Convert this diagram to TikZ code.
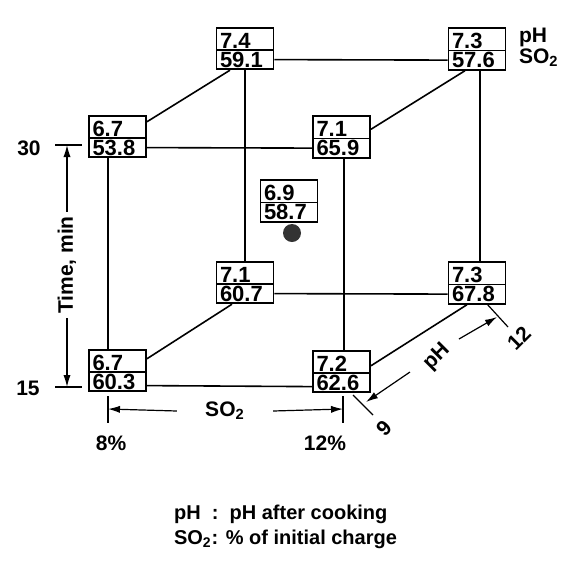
\documentclass[tikz,border=0pt]{standalone}
\usepackage{fontspec}
\setmainfont{Liberation Sans}
\usetikzlibrary{arrows.meta,shapes.multipart}

\begin{document}
\begin{tikzpicture}[
  x=0.5pt, y=-0.5pt,
  font=\fontsize{10.5}{12.5}\selectfont\bfseries,
  cell/.style={draw, line width=0.9pt, rectangle split, rectangle split parts=2,
    font=\fontsize{11}{13}\selectfont\bfseries,
    text width=25pt, align=left, inner xsep=1.75pt, inner ysep=0.5pt,
    text height=9.2pt, text depth=0pt},
  cube/.style={line width=0.8pt},
  arr/.style={-{Latex[length=6pt,width=3.6pt]}, line width=0.6pt},
  axtick/.style={line width=0.6pt}
]
\useasboundingbox (0,0) rectangle (561,563);
% boxes: time - SO2 - pH
\node[cell] (box-30-8-12) at (245,48.5) {7.4\nodepart{two}59.1};
\node[cell] (box-30-12-12) at (477,49) {7.3\nodepart{two}57.6};
\node[cell] (box-30-8-9) at (117.5,136.5) {6.7\nodepart{two}53.8};
\node[cell] (box-30-12-9) at (341.5,137) {7.1\nodepart{two}65.9};
\node[cell] (box-mid) at (289,201) {6.9\nodepart{two}58.7};
\node[circle, fill=black!80, minimum size=9pt, inner sep=0pt] (mid-dot) at (292,233) {};
\node[cell] (box-15-8-12) at (245,282.5) {7.1\nodepart{two}60.7};
\node[cell] (box-15-12-12) at (477,283) {7.3\nodepart{two}67.8};
\node[cell] (box-15-8-9) at (117.5,370.5) {6.7\nodepart{two}60.3};
\node[cell] (box-15-12-9) at (341.5,371.5) {7.2\nodepart{two}62.6};
\node[anchor=west] (key-ph) at (512,37) {pH};
\node[anchor=west] (key-so2) at (512,58) {SO\textsubscript{2}};
% cube edges
\draw[cube] (box-30-8-12.two east) -- (box-30-12-12.two west);
\draw[cube] (box-30-8-9.two east) -- (box-30-12-9.two west);
\draw[cube] (box-15-8-12.two east) -- (box-15-12-12.two west);
\draw[cube] ([yshift=-2pt]box-15-8-9.two east) -- ([yshift=-2pt]box-15-12-9.two west);
\draw[cube] ([xshift=-4.75pt]box-30-8-9.south) -- ([xshift=-4.75pt]box-15-8-9.north);
\draw[cube] ([xshift=1.25pt]box-30-12-9.south) -- ([xshift=1.25pt]box-15-12-9.north);
\draw[cube] (box-30-8-12.south) -- (box-15-8-12.north);
\draw[cube] ([xshift=1.5pt]box-30-12-12.south) -- ([xshift=1.5pt]box-15-12-12.north);
\draw[cube] ([yshift=-3.5pt]box-30-8-9.north east) -- ([xshift=-7.5pt]box-30-8-12.south);
\draw[cube] ([yshift=-7pt]box-30-12-9.north east) -- ([xshift=-6pt]box-30-12-12.south);
\draw[cube] ([yshift=-5pt]box-15-8-9.north east) -- ([xshift=-6.5pt]box-15-8-12.south);
\draw[cube] ([yshift=-8pt]box-15-12-9.north east) -- ([xshift=-5pt]box-15-12-12.south);
% time axis
\node (lbl-30) at (29,148) {30};
\node (lbl-15) at (28,388) {15};
\draw[axtick] (55,145) -- (82,145);
\draw[axtick] (55,387) -- (82,387);
\coordinate (tip-30) at (67,145);
\coordinate (tip-15) at (67,387);
\node[rotate=90, inner sep=2pt] (lbl-time) at (67,265) {Time, min};
\draw[arr] (lbl-time.east) -- (tip-30);
\draw[arr] (lbl-time.west) -- (tip-15);
% SO2 axis
\draw[axtick] (108,396) -- (108,423);
\draw[axtick] (343,396) -- (343,423);
\coordinate (tip-8) at (108,409);
\coordinate (tip-12) at (343,409);
\node[inner sep=2pt] (lbl-so2) at (225,411) {SO\textsubscript{2}};
\draw[arr] ([xshift=-12pt]lbl-so2.west) -- (tip-8);
\draw[arr] ([xshift=12pt]lbl-so2.east) -- (tip-12);
\node (lbl-8) at (111,443) {8\%};
\node (lbl-12) at (325,443) {12\%};
% pH axis
\draw[axtick] (487,304) -- (508,327);
\draw[axtick] (353,395) -- (373,415);
\node[rotate=45, inner sep=0.5pt] (lbl-ph) at (437,357) {pH};
\coordinate (ph-a) at (459,339);
\coordinate (ph-b) at (410,372);
\coordinate (tip-ph12) at (497,317);
\coordinate (tip-ph9) at (366,402);
\draw[arr] (ph-a) -- (tip-ph12);
\draw[arr] (ph-b) -- (tip-ph9);
\node[rotate=45, inner sep=0.5pt] (lbl-ph12) at (519,338) {12};
\node[rotate=45, inner sep=0.5pt] (lbl-ph9) at (384,428) {9};
% legend
\node[anchor=west, align=left, font=\fontsize{10}{12.5}\selectfont\bfseries] (legend) at (167,527)
  {pH\ \ :\ \ pH after cooking\\SO\textsubscript{2}: \% of initial charge};
\end{tikzpicture}
\end{document}
